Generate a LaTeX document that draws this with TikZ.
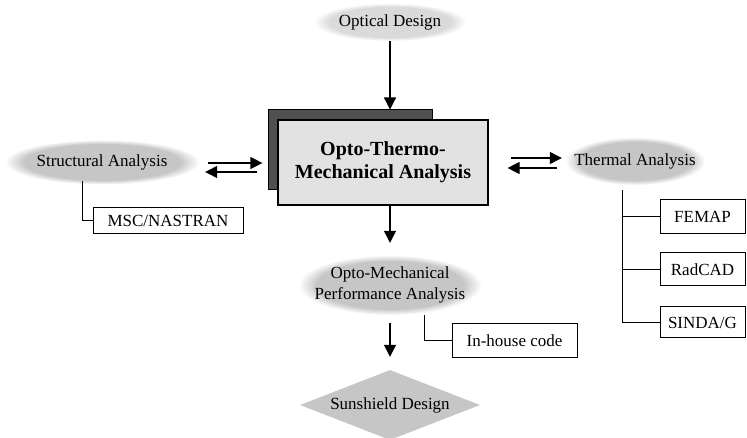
\documentclass[tikz,border=0pt]{standalone}
\usepackage{fontspec}
\setmainfont{Liberation Serif}
\usetikzlibrary{shapes.geometric,arrows.meta,calc}
\definecolor{cloudc}{HTML}{C6C6C6}
\definecolor{cloudl}{HTML}{DADADA}
\definecolor{boxfill}{HTML}{E2E2E2}
\definecolor{shadfill}{HTML}{505050}
\pgfdeclareradialshading{cloudshade}{\pgfpoint{0bp}{0bp}}{color(0bp)=(cloudc); color(20bp)=(cloudc); color(25bp)=(white); color(50bp)=(white)}
\pgfdeclareradialshading{cloudshadel}{\pgfpoint{0bp}{0bp}}{color(0bp)=(cloudl); color(20bp)=(cloudl); color(25bp)=(white); color(50bp)=(white)}
\newcommand{\zbox}[1]{\makebox[0pt]{#1}}
\tikzset{
  lbl/.style={font=\fontsize{17}{21}\selectfont},
  cloud/.style={lbl, ellipse, shading=cloudshade, inner sep=0pt},
  cloudlight/.style={lbl, ellipse, shading=cloudshadel, inner sep=0pt},
  toolbox/.style={lbl, draw, line width=1pt, fill=white, inner sep=0pt},
  mainbox/.style={draw, line width=1.2pt, fill=boxfill, inner sep=0pt, align=center,
    font=\fontsize{20}{23}\selectfont\bfseries},
  shadbox/.style={draw, line width=1pt, fill=shadfill, inner sep=0pt},
  sunbox/.style={lbl, diamond, fill=cloudc, inner sep=0pt},
  arr/.style={line width=1.2pt, -{Triangle[length=12pt,width=12pt]}},
  conn/.style={line width=1.1pt}
}
\begin{document}
\begin{tikzpicture}[x=1pt,y=-1pt]
\useasboundingbox (0,0) rectangle (747,438);
% nodes
\node[cloudlight, minimum width=152pt, minimum height=38pt] (opt) at (390,22) {\zbox{Optical Design}};
\node[shadbox, minimum width=164pt, minimum height=80pt] (shad) at (350,150) {};
\node[mainbox, minimum width=210pt, minimum height=85pt] (main) at (383,162.5) {Opto-Thermo-\\Mechanical Analysis};
\node[cloud, minimum width=195pt, minimum height=45pt] (sa) at (102,162) {\zbox{Structural Analysis}};
\node[cloud, minimum width=140pt, minimum height=48pt] (ta) at (635,161) {\zbox{Thermal Analysis}};
\node[toolbox, minimum width=150pt, minimum height=26pt] (ms) at (168,220.5) {MSC/NASTRAN};
\node[toolbox, minimum width=85pt, minimum height=34pt] (fe) at (702.5,216.5) {FEMAP};
\node[toolbox, minimum width=85pt, minimum height=33pt] (rc) at (702.5,269.5) {RadCAD};
\node[toolbox, minimum width=85pt, minimum height=31pt] (sg) at (702.5,322.5) {SINDA/G};
\node[cloud, minimum width=183pt, minimum height=60pt] (om) at (390,285)
  {\zbox{\begin{tabular}{@{}c@{}}Opto-Mechanical\\Performance Analysis\end{tabular}}};
\node[toolbox, minimum width=125pt, minimum height=34pt] (ih) at (514.5,340.5) {In-house code};
\node[sunbox, minimum width=180pt, minimum height=70pt, aspect=2.57] (sun) at (390,405) {\zbox{Sunshield Design}};
% helper coordinates for the tree trunks
\coordinate (mstrunk) at ($(ms.west)+(-10,0)$);
\coordinate (tatrunk) at ($(fe.west)+(-37,0)$);
\coordinate (ihtrunk) at ($(ih.west)+(-27,0)$);
% vertical arrows
\draw[arr] (opt.south) -- (opt.south |- shad.north);
\draw[arr] (om.north |- main.south) -- ($(om.north)+(0,-12)$);
\draw[arr] ($(om.south)+(0,8)$) -- ($(sun.north)+(0,-13)$);
% structural <-> main
\draw[arr] ($(sa.east)+(8,1)$) -- ($(sa.east -| main.west)+(-15,1)$);
\draw[arr] ($(sa.east -| main.west)+(-20,10)$) -- ($(sa.east)+(5.5,10)$);
% main <-> thermal
\draw[arr] ($(ta.west -| main.east)+(22,-3)$) -- ($(ta.west)+(-3,-3)$);
\draw[arr] ($(ta.west)+(-8,7)$) -- ($(ta.west -| main.east)+(19,7)$);
% tool connectors
\draw[conn] ($(mstrunk |- sa.south)+(0,-4)$) |- (ms.west);
\draw[conn] ($(tatrunk |- ta.south)+(0,5)$) |- (sg.west);
\draw[conn] (tatrunk) -- (fe.west);
\draw[conn] (tatrunk |- rc.west) -- (rc.west);
\draw[conn] (ihtrunk |- om.south) |- (ih.west);
\end{tikzpicture}
\end{document}
